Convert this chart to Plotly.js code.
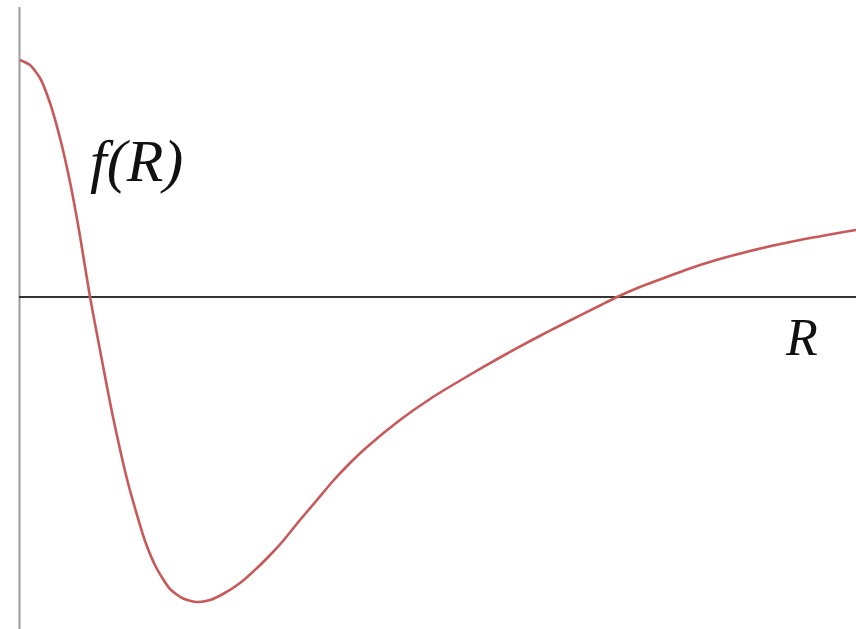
<!DOCTYPE html>
<html>
<head>
<meta charset="utf-8">
<script src="https://cdn.plot.ly/plotly-3.0.1.min.js"></script>
<style>
  html, body { margin: 0; padding: 0; background: #fff; }
  #chart { width: 856px; height: 629px; }
</style>
</head>
<body>
<div id="chart"></div>
<script>
// Sampled curve f(R): separation R and function value
const R = [0, 0.10, 0.20, 0.30, 0.40, 0.50, 0.60, 0.70, 0.80, 0.93, 1.08, 1.25, 1.37, 1.50,
           1.63, 1.77, 1.90, 2.03, 2.20, 2.37, 2.53, 2.63, 2.80, 2.97, 3.13, 3.30, 3.47,
           3.80, 4.13, 4.47, 4.80, 5.13, 5.47, 5.80, 5.97, 6.20, 6.80, 7.30, 7.80, 8.36];
const fR = [2.37, 2.32, 2.19, 1.94, 1.59, 1.15, 0.61, 0.00, -0.53, -1.20, -1.86, -2.44, -2.72, -2.92,
            -3.015, -3.05, -3.03, -2.97, -2.86, -2.71, -2.55, -2.44, -2.23, -2.03, -1.84, -1.66, -1.50,
            -1.23, -1.00, -0.795, -0.605, -0.425, -0.25, -0.085, 0.00, 0.10, 0.32, 0.46, 0.57, 0.67];

// Axis labels
const yLabel = 'f(R)';
const xLabel = 'R';

const xRange = [-0.2, 8.36];
const yRange = [-3.32, 2.97];

const labelFont = "'Liberation Serif', 'DejaVu Serif', serif";

const trace = {
  x: R,
  y: fR,
  type: 'scatter',
  mode: 'lines',
  line: { color: '#c8595a', width: 2.6, shape: 'spline', smoothing: 0.6 },
  hoverinfo: 'skip'
};

const hiddenAxis = {
  showgrid: false, zeroline: false, showticklabels: false,
  ticks: '', showline: false, fixedrange: true
};

const layout = {
  width: 856,
  height: 629,
  margin: { l: 0, r: 0, t: 0, b: 0, pad: 0 },
  paper_bgcolor: '#ffffff',
  plot_bgcolor: '#ffffff',
  showlegend: false,
  xaxis: Object.assign({ range: xRange }, hiddenAxis),
  yaxis: Object.assign({ range: yRange }, hiddenAxis),
  shapes: [
    // vertical axis
    { type: 'line', xref: 'x', yref: 'y', x0: -0.005, x1: -0.005, y0: yRange[0], y1: 2.90,
      line: { color: '#9a9a9a', width: 2 }, layer: 'below' },
    // horizontal axis (f = 0)
    { type: 'line', xref: 'x', yref: 'y', x0: -0.01, x1: xRange[1], y0: 0, y1: 0,
      line: { color: '#333333', width: 2 }, layer: 'below' }
  ],
  annotations: [
    { text: '<i>' + yLabel + '</i>', xref: 'paper', yref: 'paper', x: 136 / 856, y: 1 - 161 / 629,
      xanchor: 'center', yanchor: 'middle', showarrow: false,
      font: { family: labelFont, size: 60, color: '#111' } },
    { text: '<i>' + xLabel + '</i>', xref: 'paper', yref: 'paper', x: 801 / 856, y: 1 - 337 / 629,
      xanchor: 'center', yanchor: 'middle', showarrow: false,
      font: { family: labelFont, size: 52, color: '#111' } }
  ]
};

Plotly.newPlot('chart', [trace], layout, { staticPlot: true, displayModeBar: false });
</script>
</body>
</html>
